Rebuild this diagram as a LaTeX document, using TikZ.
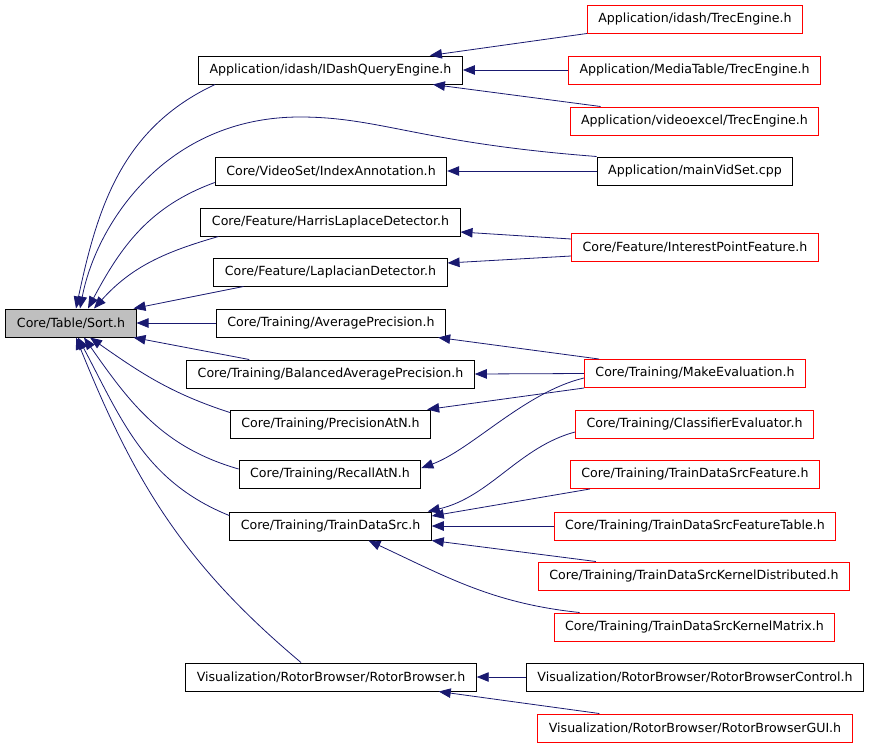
\documentclass[tikz,border=0pt]{standalone}
\usepackage{fontspec}
\setmainfont{DejaVu Sans}
\usetikzlibrary{arrows.meta}
\definecolor{EdgeNavy}{HTML}{191970}
\definecolor{BoxRed}{HTML}{FF0000}
\definecolor{SelGray}{HTML}{BFBFBF}
\tikzset{
  file/.style={draw=black, line width=1pt, minimum height=28pt,
               inner xsep=11pt, inner ysep=0pt,
               font=\fontsize{12.6}{14}\selectfont},
  filered/.style={file, draw=BoxRed},
  dep/.style={draw=EdgeNavy, line width=0.8pt, {Triangle[length=12pt,width=9.5pt]}-},
}
\begin{document}
\begin{tikzpicture}[x=1pt, y=1pt]
  \useasboundingbox (0,0) rectangle (869,-747);

  \node[file, fill=SelGray] (sort) at (71,-323) {Core/Table/Sort.h};

  % documented files
  \foreach \name/\x/\y/\txt in {
    idash/330.5/-70/{Application/idash/IDashQueryEngine.h},
    mainvid/695/-171/{Application/mainVidSet.cpp},
    indexann/331/-171/{Core/VideoSet/IndexAnnotation.h},
    harris/330.5/-222/{Core/Feature/HarrisLaplaceDetector.h},
    laplace/330.5/-272/{Core/Feature/LaplacianDetector.h},
    avgprec/331/-323/{Core/Training/AveragePrecision.h},
    balprec/330.5/-374/{Core/Training/BalancedAveragePrecision.h},
    precn/330.5/-424/{Core/Training/PrecisionAtN.h},
    recalln/330/-474/{Core/Training/RecallAtN.h},
    tds/330.5/-526/{Core/Training/TrainDataSrc.h},
    rotor/331/-677/{Visualization/RotorBrowser/RotorBrowser.h},
    rotorctl/695/-677/{Visualization/RotorBrowser/RotorBrowserControl.h}
  }{
    \node[file] (\name) at (\x,\y) {\txt};
  }

  % truncated ones
  \foreach \name/\x/\y/\txt in {
    trecI/695/-19/{Application/idash/TrecEngine.h},
    trecM/694.5/-70/{Application/MediaTable/TrecEngine.h},
    trecV/694.5/-121/{Application/videoexcel/TrecEngine.h},
    interest/695/-247.5/{Core/Feature/InterestPointFeature.h},
    makeeval/695/-373.5/{Core/Training/MakeEvaluation.h},
    classeval/694.5/-424/{Core/Training/ClassifierEvaluator.h},
    tdsfeat/695/-474.5/{Core/Training/TrainDataSrcFeature.h},
    tdsftab/695/-526/{Core/Training/TrainDataSrcFeatureTable.h},
    tdskdist/694/-576/{Core/Training/TrainDataSrcKernelDistributed.h},
    tdskmat/694.5/-627/{Core/Training/TrainDataSrcKernelMatrix.h},
    rotorgui/695/-728/{Visualization/RotorBrowser/RotorBrowserGUI.h}
  }{
    \node[filered] (\name) at (\x,\y) {\txt};
  }

  % who includes Sort.h
  \draw[dep] ([xshift=5pt]sort.north) to[out=78,in=205] ([xshift=17pt]idash.south west);
  \draw[dep] ([xshift=9pt]sort.north) .. controls (96,-225) and (165,-117) .. (300,-117)
             .. controls (380,-117) and (420,-143) .. (mainvid.north west);
  \draw[dep] ([xshift=17pt]sort.north) to[out=62,in=200] ([yshift=3pt]indexann.south west);
  \draw[dep] ([xshift=23pt]sort.north) to[out=48,in=196] ([xshift=18pt]harris.south west);
  \draw[dep] ([xshift=-3pt]sort.north east) -- ([xshift=30pt]laplace.south west);
  \draw[dep] (sort.east) -- (avgprec.west);
  \draw[dep] ([xshift=-3pt]sort.south east) -- ([xshift=63pt]balprec.north west);
  \draw[dep] ([xshift=19pt]sort.south) to[out=-35,in=162] ([yshift=-3pt]precn.north west);
  \draw[dep] ([xshift=13pt]sort.south) to[out=-55,in=164] ([yshift=5pt]recalln.west);
  \draw[dep] ([xshift=7pt]sort.south) to[out=-62,in=158] ([yshift=-4pt]tds.north west);
  \draw[dep] ([xshift=5pt]sort.south) to[out=-68,in=140] ([xshift=-30pt]rotor.north);

  % second level
  \draw[dep] ([xshift=-33pt]idash.north east) -- (trecI.south west);
  \draw[dep] (idash.east) -- (trecM.west);
  \draw[dep] ([xshift=-30pt]idash.south east) -- ([xshift=31pt]trecV.north west);
  \draw[dep] (indexann.east) -- (mainvid.west);
  \draw[dep] ([yshift=-10pt]harris.east) -- ([yshift=-6pt]interest.north west);
  \draw[dep] ([yshift=9pt]laplace.east) -- ([yshift=6pt]interest.south west);
  \draw[dep] ([xshift=-8pt]avgprec.south east) -- ([xshift=15pt]makeeval.north west);
  \draw[dep] (balprec.east) -- (makeeval.west);
  \draw[dep] ([xshift=-4pt]precn.north east) -- (makeeval.south west);
  \draw[dep] ([yshift=6pt]recalln.east) .. controls (471,-450) and (525,-392) .. ([yshift=-4.5pt]makeeval.west);
  \draw[dep] ([xshift=-4pt]tds.north east) .. controls (490,-497) and (519,-447) .. ([yshift=-8pt]classeval.west);
  \draw[dep] ([yshift=10pt]tds.east) -- ([xshift=20pt]tdsfeat.south west);
  \draw[dep] (tds.east) -- (tdsftab.west);
  \draw[dep] (tds.south east) -- ([xshift=58pt]tdskdist.north west);
  \draw[dep] ([xshift=38pt]tds.south) to[out=-25,in=174] ([xshift=26pt]tdskmat.north west);
  \draw[dep] (rotor.east) -- (rotorctl.west);
  \draw[dep] ([xshift=-38pt]rotor.south east) -- ([xshift=62pt]rotorgui.north west);
\end{tikzpicture}
\end{document}
